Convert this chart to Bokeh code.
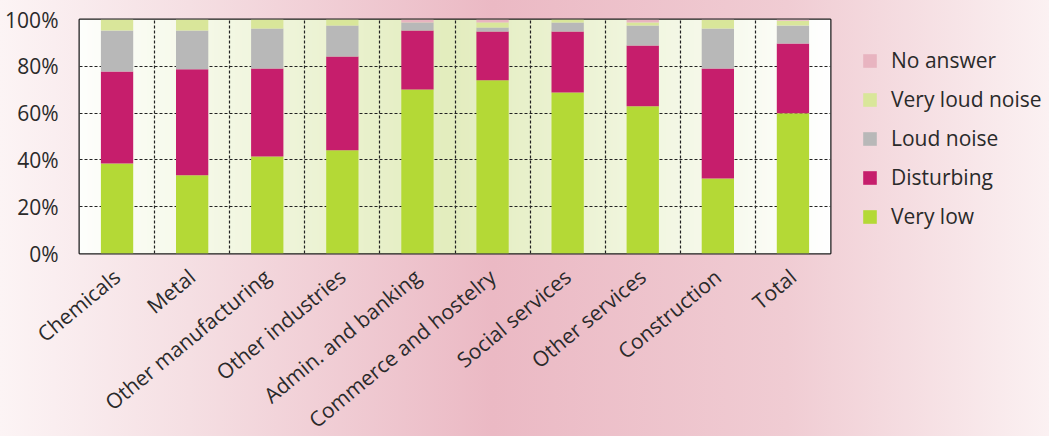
import numpy as np
from bokeh.plotting import figure
from bokeh.layouts import row
from bokeh.models import (ColumnDataSource, FixedTicker, Legend, LegendItem, Range1d)
from bokeh.embed import file_html
from bokeh.resources import INLINE

# Survey: perceived noise level at the workplace, by sector (% of workers)
categories = ["Chemicals", "Metal", "Other manufacturing", "Other industries",
              "Admin. and banking", "Commerce and hostelry", "Social services",
              "Other services", "Construction", "Total"]

very_low = [38.5, 33.4, 41.5, 44.1, 70.1, 74.0, 68.8, 62.9, 32.1, 59.9]
disturbing = [39.3, 45.3, 37.6, 40.1, 25.2, 20.9, 26.1, 26.0, 47.0, 29.8]
loud_noise = [17.5, 16.6, 17.1, 13.2, 3.4, 1.7, 3.8, 8.5, 17.1, 7.7]
very_loud_noise = [4.7, 4.7, 3.8, 2.6, 0.0, 2.1, 1.3, 1.3, 3.6, 2.1]
no_answer = [0.0, 0.0, 0.0, 0.0, 1.3, 1.3, 0.0, 1.3, 0.2, 0.5]

series = ["Very low", "Disturbing", "Loud noise", "Very loud noise", "No answer"]
colors = ["#b4d936", "#c61e6c", "#b8b8b8", "#d9e69a", "#e8b4c0"]
y_ticks = [0, 20, 40, 60, 80, 100]

FONT = "Open Sans"
TEXT = "#2a2a2a"

n = len(categories)
xpos = [i + 0.5 for i in range(n)]
source = ColumnDataSource(dict(x=xpos, **dict(zip(series, [very_low, disturbing, loud_noise,
                                                           very_loud_noise, no_answer]))))

p = figure(width=None, height=None, frame_width=751, frame_height=234,
           output_backend="svg", toolbar_location=None,
           x_range=Range1d(0, n), y_range=Range1d(0, 100),
           min_border_left=79, min_border_right=10, min_border_top=19,
           min_border_bottom=150)
p.border_fill_color = None
p.outline_line_color = "#1a1a1a"
p.outline_line_width = 2

# frame background: white at the sides, pale green towards the middle
cols = 400
t = np.linspace(0, 1, cols)
w = np.clip(1 - np.abs(t - 0.49) / 0.51, 0, 1)
white = np.array([255, 255, 255])
green = np.array([227, 237, 190])
rgb = white[None, :] * (1 - w[:, None]) + green[None, :] * w[:, None]
img = np.zeros((1, cols), dtype=np.uint32)
view = img.view(dtype=np.uint8).reshape((1, cols, 4))
view[0, :, 0] = rgb[:, 0]
view[0, :, 1] = rgb[:, 1]
view[0, :, 2] = rgb[:, 2]
view[0, :, 3] = 255
bg = p.image_rgba(image=[img], x=0, y=0, dw=n, dh=100)
bg.level = "image"

renderers = p.vbar_stack(series, x="x", width=0.43, source=source, color=colors,
                         line_color=None)

# axes
p.xaxis.ticker = FixedTicker(ticks=xpos)
p.xaxis.major_label_overrides = {x: c for x, c in zip(xpos, categories)}
p.xaxis.major_label_orientation = 0.69
p.yaxis.ticker = FixedTicker(ticks=y_ticks)
p.yaxis.major_label_overrides = {v: f"{v}%" for v in y_ticks}
for ax in (p.xaxis, p.yaxis):
    ax.axis_line_color = None
    ax.major_tick_line_color = None
    ax.minor_tick_line_color = None
    ax.major_label_text_font = FONT
    ax.major_label_text_font_size = "21px"
    ax.major_label_text_color = TEXT
p.yaxis.major_label_standoff = 15
p.xaxis.major_label_standoff = 14

# dashed grid: horizontal at the percent ticks, vertical between sectors
p.ygrid.ticker = FixedTicker(ticks=y_ticks[1:-1])
p.xgrid.ticker = FixedTicker(ticks=list(range(1, n)))
for g in (p.xgrid, p.ygrid):
    g.grid_line_color = "#222222"
    g.grid_line_dash = "3 2"
    g.grid_line_width = 1.2

# legend panel to the right of the chart; swatch renderers hold no visible data
lg = figure(width=209, height=436, output_backend="svg", toolbar_location=None,
            x_axis_type=None, y_axis_type=None, x_range=Range1d(0, 1),
            y_range=Range1d(0, 1), min_border=0)
lg.border_fill_color = None
lg.background_fill_color = None
lg.outline_line_color = None
lg.xgrid.visible = False
lg.ygrid.visible = False
swatches = [lg.quad(left=[np.nan], right=[np.nan], top=[np.nan], bottom=[np.nan],
                    fill_color=c, line_color=None)
            for c in colors]

items = [LegendItem(label=s, renderers=[r]) for s, r in zip(series, swatches)][::-1]
legend = Legend(items=items, location=(21, 12), orientation="vertical",
                glyph_width=17, glyph_height=17, label_standoff=13,
                label_height=24, spacing=11, padding=0, margin=0,
                label_text_font=FONT, label_text_font_size="21px",
                label_text_color=TEXT, border_line_color=None,
                background_fill_alpha=0)
lg.add_layout(legend, "center")

layout = row(p, lg, spacing=0,
             styles={"background": "linear-gradient(90deg, #fcf4f5 0%, #f5dfe3 18%, "
                                   "#ebb9c4 47%, #f0ccd3 75%, #fbf1f2 100%)"})

open("out.html", "w").write(file_html(layout, INLINE))
